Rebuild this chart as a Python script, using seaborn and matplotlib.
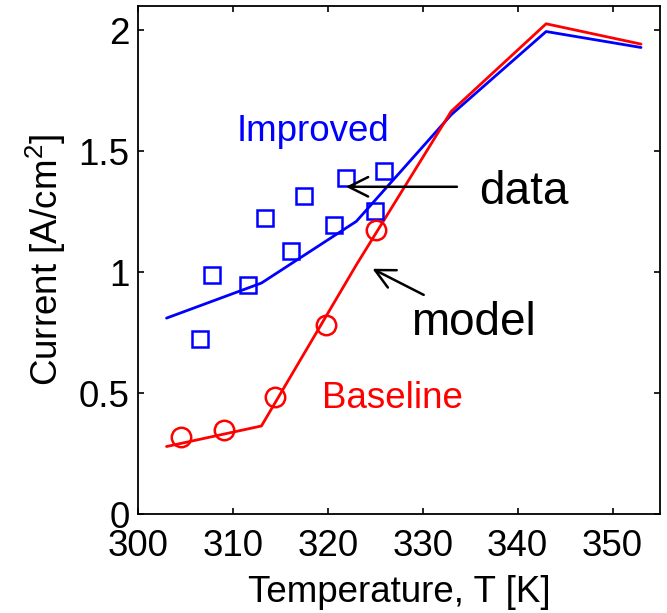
import matplotlib
matplotlib.use("Agg")
import matplotlib.pyplot as plt
import seaborn as sns
import pandas as pd
from matplotlib.ticker import FuncFormatter

# ---- data ----
model_T = [303, 313, 323, 333, 343, 353]
improved_model = [0.81, 0.955, 1.21, 1.651, 1.995, 1.929]
baseline_model = [0.279, 0.364, 1.03, 1.665, 2.027, 1.943]

improved_T = [306.5, 307.8, 311.6, 313.4, 316.1, 317.5, 320.6, 321.9, 325.0, 325.9]
improved_data = [0.724, 0.989, 0.947, 1.225, 1.088, 1.315, 1.195, 1.390, 1.252, 1.417]

baseline_T = [304.5, 309.1, 314.4, 319.8, 325.1]
baseline_data = [0.319, 0.348, 0.482, 0.781, 1.175]

x_ticks = [300, 310, 320, 330, 340, 350]
y_ticks = [0, 0.5, 1, 1.5, 2]

# ---- style ----
sns.set_style("ticks")
plt.rcParams["font.family"] = ["Liberation Sans", "DejaVu Sans"]
plt.rcParams["mathtext.default"] = "regular"
plt.rcParams["text.color"] = "black"
plt.rcParams["axes.labelcolor"] = "black"

fig = plt.figure(figsize=(6.67, 6.13), dpi=100)
ax = fig.add_axes([0.207, 0.1615, 0.7825, 0.8285])

df_imp_model = pd.DataFrame({"T": model_T, "I": improved_model})
df_base_model = pd.DataFrame({"T": model_T, "I": baseline_model})
df_imp_data = pd.DataFrame({"T": improved_T, "I": improved_data})
df_base_data = pd.DataFrame({"T": baseline_T, "I": baseline_data})

sns.lineplot(data=df_imp_model, x="T", y="I", ax=ax, color="blue", lw=2.0, sort=False)
sns.lineplot(data=df_base_model, x="T", y="I", ax=ax, color="red", lw=2.0, sort=False)
sns.lineplot(data=df_imp_data, x="T", y="I", ax=ax, sort=False, color="blue",
             linestyle="", marker="s", markersize=11.5, markerfacecolor="none",
             markeredgecolor="blue", markeredgewidth=1.8)
sns.lineplot(data=df_base_data, x="T", y="I", ax=ax, sort=False, color="red",
             linestyle="", marker="o", markersize=14, markerfacecolor="none",
             markeredgecolor="red", markeredgewidth=1.8)

ax.set_xlim(300, 355)
ax.set_ylim(0, 2.1)
ax.set_xticks(x_ticks)
ax.set_yticks(y_ticks)
ax.yaxis.set_major_formatter(FuncFormatter(lambda v, p: f"{v:g}"))

for s in ax.spines.values():
    s.set_visible(True)
    s.set_linewidth(1.3)
    s.set_color("black")

ax.tick_params(axis="both", which="both", direction="in", top=True, right=True,
               length=4.5, width=1.2, labelsize=26.5, colors="black")
ax.tick_params(axis="x", pad=11)
ax.tick_params(axis="y", pad=6)

ax.set_xlabel("Temperature, T [K]", fontsize=26.5, labelpad=8, color="black")
ax.set_ylabel("Current [A/cm$^2$]", fontsize=26.5, labelpad=8, color="black")

# annotations
ax.text(310.4, 1.543, "Improved", color="blue", fontsize=26.5, ha="left", va="baseline")
ax.text(319.4, 0.439, "Baseline", color="red", fontsize=26.5, ha="left", va="baseline")
ax.text(335.9, 1.283, "data", color="black", fontsize=33, ha="left", va="baseline")
ax.text(328.75, 0.741, "model", color="black", fontsize=33, ha="left", va="baseline")

arrow_kw = dict(arrowstyle="->,head_length=0.7,head_width=0.35", lw=1.8, color="black",
                shrinkA=0, shrinkB=0, mutation_scale=20)
ax.annotate("", xy=(321.9, 1.353), xytext=(333.6, 1.353), arrowprops=arrow_kw)
ax.annotate("", xy=(324.7, 1.014), xytext=(330.1, 0.906), arrowprops=arrow_kw)

fig.savefig("out.png", dpi=100)
